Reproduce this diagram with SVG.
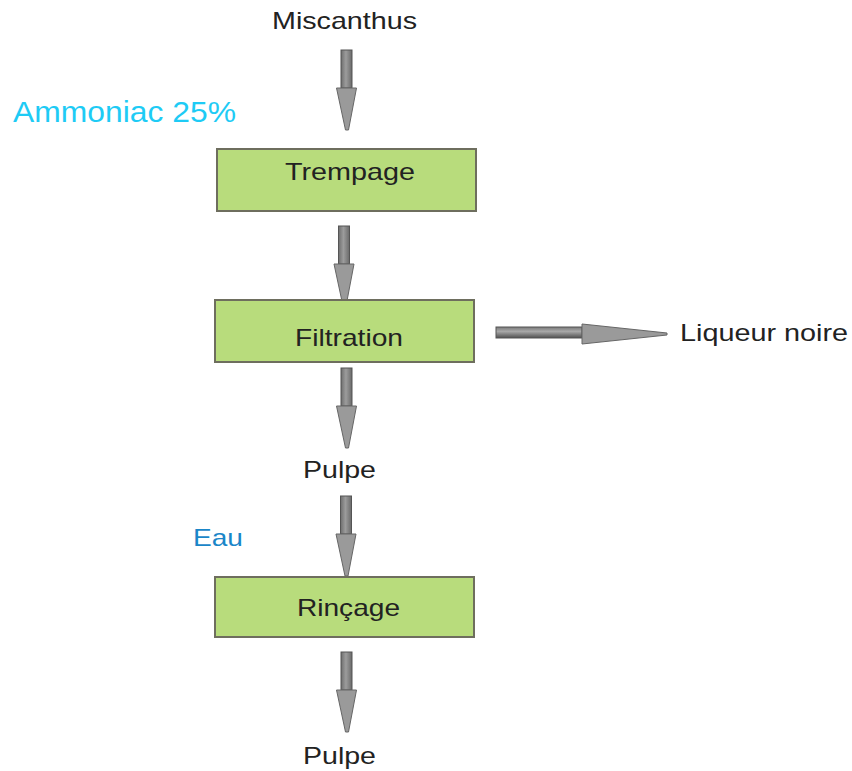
<svg xmlns="http://www.w3.org/2000/svg" xmlns:xlink="http://www.w3.org/1999/xlink" width="852" height="771" viewBox="0 0 852 771">
  <style>
    .box { fill: #b8dc7c; stroke: #6e6e5e; stroke-width: 2; }
    .lbl { font-family: "Liberation Sans", Arial, sans-serif; font-size: 24px; fill: #222; }
    .shaft { fill: url(#shaftV); stroke: #555; stroke-width: 1; }
    .head { fill: #9a9a9a; stroke: #666; stroke-width: 1; }
  </style>
  <defs>
    <linearGradient id="shaftV" x1="0" y1="0" x2="1" y2="0">
      <stop offset="0" stop-color="#6e6e6e"/>
      <stop offset="0.45" stop-color="#9c9c9c"/>
      <stop offset="1" stop-color="#6a6a6a"/>
    </linearGradient>
    <linearGradient id="shaftH" x1="0" y1="0" x2="0" y2="1">
      <stop offset="0" stop-color="#7a7a7a"/>
      <stop offset="0.4" stop-color="#a8a8a8"/>
      <stop offset="1" stop-color="#505050"/>
    </linearGradient>
    <!-- downward block arrow, origin at top centre of the shaft -->
    <g id="arrowDown">
      <rect class="shaft" x="-5.5" y="0" width="11" height="38"/>
      <polygon class="head" points="-10,38 10,38 2,80 -1,80"/>
    </g>
  </defs>

  <g id="connectors">
    <use xlink:href="#arrowDown" transform="translate(346.5,50)"/>
    <use xlink:href="#arrowDown" transform="translate(344,226)"/>
    <use xlink:href="#arrowDown" transform="translate(346.5,368)"/>
    <use xlink:href="#arrowDown" transform="translate(346,496)"/>
    <use xlink:href="#arrowDown" transform="translate(346.5,652)"/>
    <g id="arrowRight">
      <rect x="496" y="327" width="86" height="11" fill="url(#shaftH)" stroke="#555" stroke-width="1"/>
      <polygon class="head" points="582,324 582,344 667,335 667,333"/>
    </g>
  </g>

  <g id="miscanthus">
    <text class="lbl" x="272" y="29" textLength="145" lengthAdjust="spacingAndGlyphs">Miscanthus</text>
  </g>
  <g id="ammoniac">
    <text x="13" y="122" font-family="'Liberation Sans', Arial, sans-serif" font-size="29" fill="#1ecbf5" textLength="223" lengthAdjust="spacingAndGlyphs">Ammoniac 25%</text>
  </g>
  <g id="trempage">
    <rect class="box" x="217" y="149" width="259" height="62"/>
    <text class="lbl" x="285" y="180" textLength="130" lengthAdjust="spacingAndGlyphs">Trempage</text>
  </g>
  <g id="filtration">
    <rect class="box" x="215" y="300" width="259" height="62"/>
    <text class="lbl" x="295" y="346" textLength="108" lengthAdjust="spacingAndGlyphs">Filtration</text>
  </g>
  <g id="liqueur">
    <text class="lbl" x="680" y="341" textLength="168" lengthAdjust="spacingAndGlyphs">Liqueur noire</text>
  </g>
  <g id="pulpe1">
    <text class="lbl" x="303" y="478" textLength="73" lengthAdjust="spacingAndGlyphs">Pulpe</text>
  </g>
  <g id="eau">
    <text x="193" y="546" font-family="'Liberation Sans', Arial, sans-serif" font-size="24" fill="#1a86c8" textLength="50" lengthAdjust="spacingAndGlyphs">Eau</text>
  </g>
  <g id="rincage">
    <rect class="box" x="215" y="577" width="259" height="60"/>
    <text class="lbl" x="297" y="616" textLength="103" lengthAdjust="spacingAndGlyphs">Rinçage</text>
  </g>
  <g id="pulpe2">
    <text class="lbl" x="303" y="764" textLength="73" lengthAdjust="spacingAndGlyphs">Pulpe</text>
  </g>
</svg>
